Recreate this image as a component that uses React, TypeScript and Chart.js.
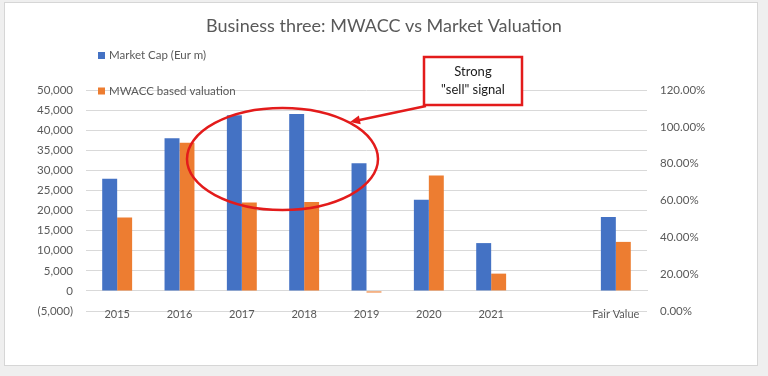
import React, { useEffect, useRef } from "react";
import { Chart, registerables } from "chart.js";

Chart.register(...registerables);

const categories = ["2015", "2016", "2017", "2018", "2019", "2020", "2021", "", "Fair Value"];
const marketCap = [27900, 38000, 43700, 44000, 31800, 22700, 11900, null, 18400];
const mwaccValuation = [18300, 36900, 22000, 22100, -400, 28700, 4300, null, 12200];
const leftTicks = { min: -5000, max: 50000, step: 5000 };
const rightTicks = { min: 0, max: 1.2, step: 0.2 };
const titleText = "Business three: MWACC vs Market Valuation";
const seriesNames = ["Market Cap (Eur m)", "MWACC based valuation"];
const calloutLines = ["Strong", "\"sell\" signal"];

const FONT = "Lato, 'Open Sans', sans-serif";
const GRAY = "#595959";

const overlayPlugin = {
  id: "overlay",
  afterDraw(chart: any) {
    const ctx = chart.ctx;
    ctx.save();
    // legend (vertical, top-left)
    const ds = chart.data.datasets;
    const legendY = [55.5, 91];
    ds.forEach((d: any, i: number) => {
      ctx.fillStyle = d.backgroundColor;
      ctx.fillRect(98, legendY[i] - 3.5, 7, 7);
      ctx.fillStyle = GRAY;
      ctx.font = `11.5px ${FONT}`;
      ctx.textBaseline = "middle";
      ctx.textAlign = "left";
      ctx.fillText(d.label, 109, legendY[i]);
    });

    // ellipse annotation
    const red = "#E31B1B";
    ctx.strokeStyle = red;
    ctx.lineWidth = 2.5;
    ctx.beginPath();
    ctx.ellipse(282.5, 159, 95.5, 51, 0, 0, Math.PI * 2);
    ctx.stroke();

    // callout box
    ctx.fillStyle = "#ffffff";
    ctx.fillRect(424, 57, 98, 48);
    ctx.strokeRect(424, 57, 98, 48);
    ctx.fillStyle = "#1a1a1a";
    ctx.font = `13px ${FONT}`;
    ctx.textAlign = "center";
    ctx.textBaseline = "middle";
    ctx.fillText(calloutLines[0], 473, 72);
    ctx.fillText(calloutLines[1], 473, 90);

    // arrow
    const x1 = 426, y1 = 106, x2 = 350, y2 = 122;
    ctx.beginPath();
    ctx.moveTo(x1, y1);
    ctx.lineTo(x2 + 6, y2 - 1.3);
    ctx.stroke();
    const ang = Math.atan2(y2 - y1, x2 - x1);
    const L = 10, W = 4.5;
    ctx.fillStyle = red;
    ctx.beginPath();
    ctx.moveTo(x2, y2);
    ctx.lineTo(x2 - L * Math.cos(ang) + W * Math.sin(ang), y2 - L * Math.sin(ang) - W * Math.cos(ang));
    ctx.lineTo(x2 - L * Math.cos(ang) - W * Math.sin(ang), y2 - L * Math.sin(ang) + W * Math.cos(ang));
    ctx.closePath();
    ctx.fill();
    ctx.restore();
  },
};

export default function App() {
  const ref = useRef<HTMLCanvasElement | null>(null);
  useEffect(() => {
    if (!ref.current) return;
    Chart.defaults.font.family = FONT;
    const chart = new Chart(ref.current, {
      type: "bar",
      data: {
        labels: categories,
        datasets: [
          { label: seriesNames[0], data: marketCap, backgroundColor: "#4472C4", yAxisID: "y" },
          { label: seriesNames[1], data: mwaccValuation, backgroundColor: "#ED7D31", yAxisID: "y" },
        ],
      },
      options: {
        animation: false,
        responsive: false,
        maintainAspectRatio: false,
        layout: { padding: { left: 0, right: 0, top: 0, bottom: 65 } },
        datasets: { bar: { categoryPercentage: 0.48, barPercentage: 1 } } as any,
        plugins: {
          legend: { display: false },
          tooltip: { enabled: false },
          title: {
            display: true,
            text: titleText,
            color: GRAY,
            font: { size: 18, weight: "normal", family: FONT, lineHeight: 1.2 },
            padding: { top: 15, bottom: 53.4 },
          },
        },
        scales: {
          x: {
            type: "category",
            position: { y: 0 } as any,
            grid: { display: false },
            border: { display: true, color: "#d9d9d9" },
            ticks: { color: GRAY, font: { size: 11 }, padding: 9, maxRotation: 0, autoSkip: false },
          },
          y: {
            position: "left",
            min: leftTicks.min,
            max: leftTicks.max,
            ticks: {
              stepSize: leftTicks.step,
              color: GRAY,
              font: { size: 11.5 },
              padding: 13,
              callback: (v: any) =>
                v < 0 ? `(${Math.abs(v).toLocaleString("en-US")})` : Number(v).toLocaleString("en-US"),
            },
            grid: { color: "#d9d9d9", drawTicks: false },
            border: { display: false },
            afterFit: (s: any) => { s.width = 86; },
          },
          y1: {
            position: "right",
            min: rightTicks.min,
            max: rightTicks.max,
            ticks: {
              stepSize: rightTicks.step,
              color: GRAY,
              font: { size: 11.5 },
              padding: 13,
              callback: (v: any) => (Number(v) * 100).toFixed(2) + "%",
            },
            grid: { display: false, drawTicks: false },
            border: { display: false },
            afterFit: (s: any) => { s.width = 121; },
          },
        },
      },
      plugins: [overlayPlugin],
    });
    return () => chart.destroy();
  }, []);

  return (
    <div style={{ position: "fixed", left: 0, top: 0, width: 768, height: 376, background: "#efefef" }}>
      <div
        style={{
          position: "absolute",
          left: 4,
          top: 2,
          width: 752,
          height: 362,
          background: "#ffffff",
          border: "1px solid #d6d6d6",
        }}
      />
      <canvas
        ref={ref}
        width={768}
        height={376}
        style={{ position: "absolute", left: 0, top: 0, width: 768, height: 376 }}
      />
    </div>
  );
}
